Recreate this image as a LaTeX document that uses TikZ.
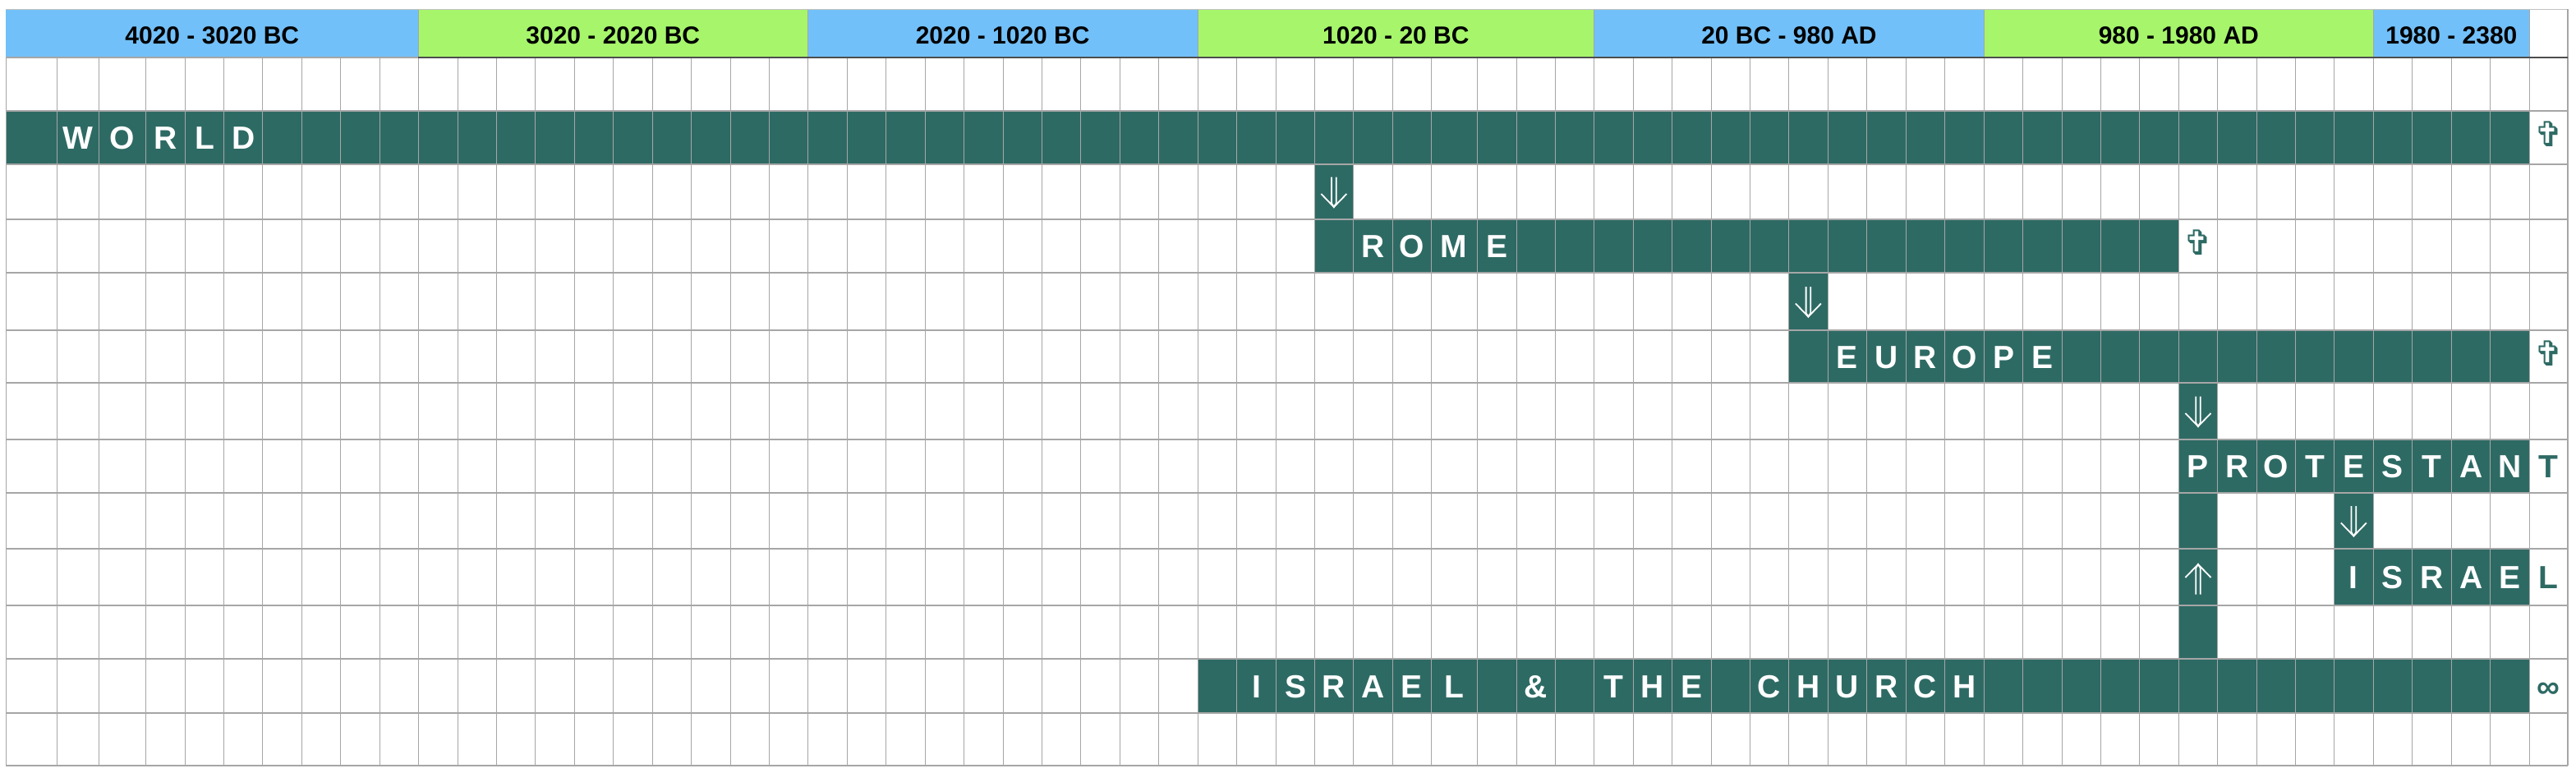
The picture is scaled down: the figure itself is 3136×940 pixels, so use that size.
\documentclass[tikz,border=0pt]{standalone}
\usepackage{fontspec}
\setmainfont{Liberation Sans}
\newfontfamily\symfont{DejaVu Sans}
\definecolor{tealc}{HTML}{2E6A64}
\definecolor{hblue}{HTML}{72C0F9}
\definecolor{hgreen}{HTML}{A6F56B}
\definecolor{gridc}{HTML}{A6A6A6}
\definecolor{hline}{HTML}{4D4D4D}

\foreach \v [count=\i] in {7.2,69.3,120.5,177.4,225.5,272.7,319.6,367.2,414.5,462.6,
  509.4,557.5,604.7,651.2,699.3,746.5,794.2,841.5,889.5,936.4,
  983.2,1031.3,1078.5,1126.6,1173.5,1221.5,1268.4,1315.3,1363.3,1410.6,
  1458.2,1505.5,1553.6,1600.4,1647.3,1695.3,1742.2,1798.2,1846.7,1893.2,
  1940.5,1988.5,2035.4,2083.4,2130.3,2177.6,2225.2,2272.5,2320.5,2367.4,
  2415.4,2462.7,2510.8,2557.8,2604.7,2652.5,2699.4,2747.6,2794.5,2841.5,
  2889.2,2936.6,2984.7,3031.7,3079.5,3126}
  {\expandafter\xdef\csname cx\i\endcsname{\v}}
\foreach \v [count=\i from 0] in {11,70,135,200,267,332,402,466,535,600,668,737,802,868,932}
  {\expandafter\xdef\csname ry\i\endcsname{\v}}

\newcommand\getcell[2]{%
  \edef\xa{\csname cx\number#1\endcsname}%
  \edef\xb{\csname cx\the\numexpr#1+1\relax\endcsname}%
  \edef\ya{\csname ry\number#2\endcsname}%
  \edef\yb{\csname ry\the\numexpr#2+1\relax\endcsname}%
  \pgfmathsetmacro\xc{(\xa+\xb)/2}%
  \pgfmathsetmacro\yc{(\ya+\yb)/2}}

\newcommand\tealrun[3]{%
  \edef\xa{\csname cx\number#1\endcsname}%
  \edef\xb{\csname cx\the\numexpr#2+1\relax\endcsname}%
  \edef\ya{\csname ry\number#3\endcsname}%
  \edef\yb{\csname ry\the\numexpr#3+1\relax\endcsname}%
  \fill[tealc] (\xa,\ya) rectangle (\xb,\yb);}

\newcommand\letter[4]{%
  \getcell{#1}{#2}%
  \node[#4] (L\number#1-\number#2) at (\xc,\yc+14) {#3};}

\newcommand\word[3]{%
  \foreach \ch [count=\k from 0] in {#3} {%
    \pgfmathtruncatemacro\cc{#1+\k}%
    \letter{\cc}{#2}{\ch}{lettxt}}}

\newcommand\crossmark[2]{%
  \getcell{#1}{#2}%
  \node[crosstxt] (X\number#1-\number#2) at (\xc,\yc-4) {✞};}

\newcommand\varrow[4]{%
  \getcell{#1}{#2}%
  \begin{scope}[shift={(\xc,\yc+#4)},yscale=#3]
    \draw[arrw] (-2.8,-18) -- (-2.8,14) -- (0,18.5) -- (2.8,14) -- (2.8,-18);
    \draw[arrw] (-15.5,2.5) -- (0,18.5) -- (15.5,2.5);
  \end{scope}}

\begin{document}
\begin{tikzpicture}[x=1pt,y=-1pt,
  lettxt/.style={text=white,font=\bfseries\fontsize{39}{39}\selectfont,anchor=base,inner sep=0pt},
  endtxt/.style={text=tealc,font=\bfseries\fontsize{39}{39}\selectfont,anchor=base,inner sep=0pt},
  crosstxt/.style={text=tealc,font=\symfont\fontsize{42}{42}\selectfont,anchor=center,inner sep=0pt},
  headtxt/.style={text=black,font=\bfseries\fontsize{30}{30}\selectfont,anchor=base,inner sep=0pt},
  gridl/.style={draw=gridc,line width=1.2pt},
  arrw/.style={draw=white,line width=1.8pt,line join=miter}]
\useasboundingbox (0,0) rectangle (3136,940);
\fill[white] (0,0) rectangle (3136,940);

% header
\foreach \a/\b/\col/\txt in {1/10/hblue/4020 - 3020 BC,11/20/hgreen/3020 - 2020 BC,
  21/30/hblue/2020 - 1020 BC,31/40/hgreen/1020 - 20 BC,41/50/hblue/20 BC - 980 AD,
  51/60/hgreen/980 - 1980 AD,61/64/hblue/1980 - 2380}{%
  \edef\xa{\csname cx\a\endcsname}%
  \edef\xb{\csname cx\the\numexpr\b+1\relax\endcsname}%
  \fill[\col] (\xa,11) rectangle (\xb,70);
  \node[headtxt] (H\a) at ({(\xa+\xb)/2},53.5) {\txt};
}
\foreach \i in {11,21,31,41,51,61,65}{%
  \edef\xa{\csname cx\i\endcsname}%
  \draw[draw=gridc,line width=0.8pt] (\xa,11) -- (\xa,70);}
\draw[draw=gridc!70,line width=1pt] (\csname cx1\endcsname,11) -- (\csname cx66\endcsname,11);
\draw[gridl] (\csname cx66\endcsname,11) -- (\csname cx66\endcsname,70);

% teal bars
\tealrun{1}{64}{2}
\tealrun{34}{34}{3}
\tealrun{34}{55}{4}
\tealrun{46}{46}{5}
\tealrun{46}{64}{6}
\tealrun{56}{56}{7}
\tealrun{56}{64}{8}
\tealrun{56}{56}{9}
\tealrun{60}{60}{9}
\tealrun{56}{56}{10}
\tealrun{60}{64}{10}
\tealrun{56}{56}{11}
\tealrun{31}{64}{12}

% grid
\foreach \i in {1,...,66}{%
  \edef\xa{\csname cx\i\endcsname}%
  \draw[gridl] (\xa,\csname ry1\endcsname) -- (\xa,\csname ry14\endcsname);}
\foreach \j in {1,...,14}{%
  \edef\ya{\csname ry\j\endcsname}%
  \draw[gridl] (\csname cx1\endcsname,\ya) -- (\csname cx66\endcsname,\ya);}
\draw[draw=hline,line width=1.5pt] (\csname cx11\endcsname,70) -- (\csname cx66\endcsname,70);

% words
\word{2}{2}{W,O,R,L,D}
\word{35}{4}{R,O,M,E}
\word{47}{6}{E,U,R,O,P,E}
\word{56}{8}{P,R,O,T,E,S,T,A,N}
\letter{65}{8}{T}{endtxt}
\word{60}{10}{I,S,R,A,E}
\letter{65}{10}{L}{endtxt}
\word{32}{12}{I,S,R,A,E,L}
\letter{39}{12}{\&}{lettxt}
\word{41}{12}{T,H,E}
\word{45}{12}{C,H,U,R,C,H}
\letter{65}{12}{∞}{endtxt}

% crosses
\crossmark{65}{2}
\crossmark{56}{4}
\crossmark{65}{6}

% arrows
\varrow{34}{3}{1}{0}
\varrow{46}{5}{1}{0}
\varrow{56}{7}{1}{0}
\varrow{60}{9}{1}{0}
\varrow{56}{10}{-1}{3}
\end{tikzpicture}
\end{document}
